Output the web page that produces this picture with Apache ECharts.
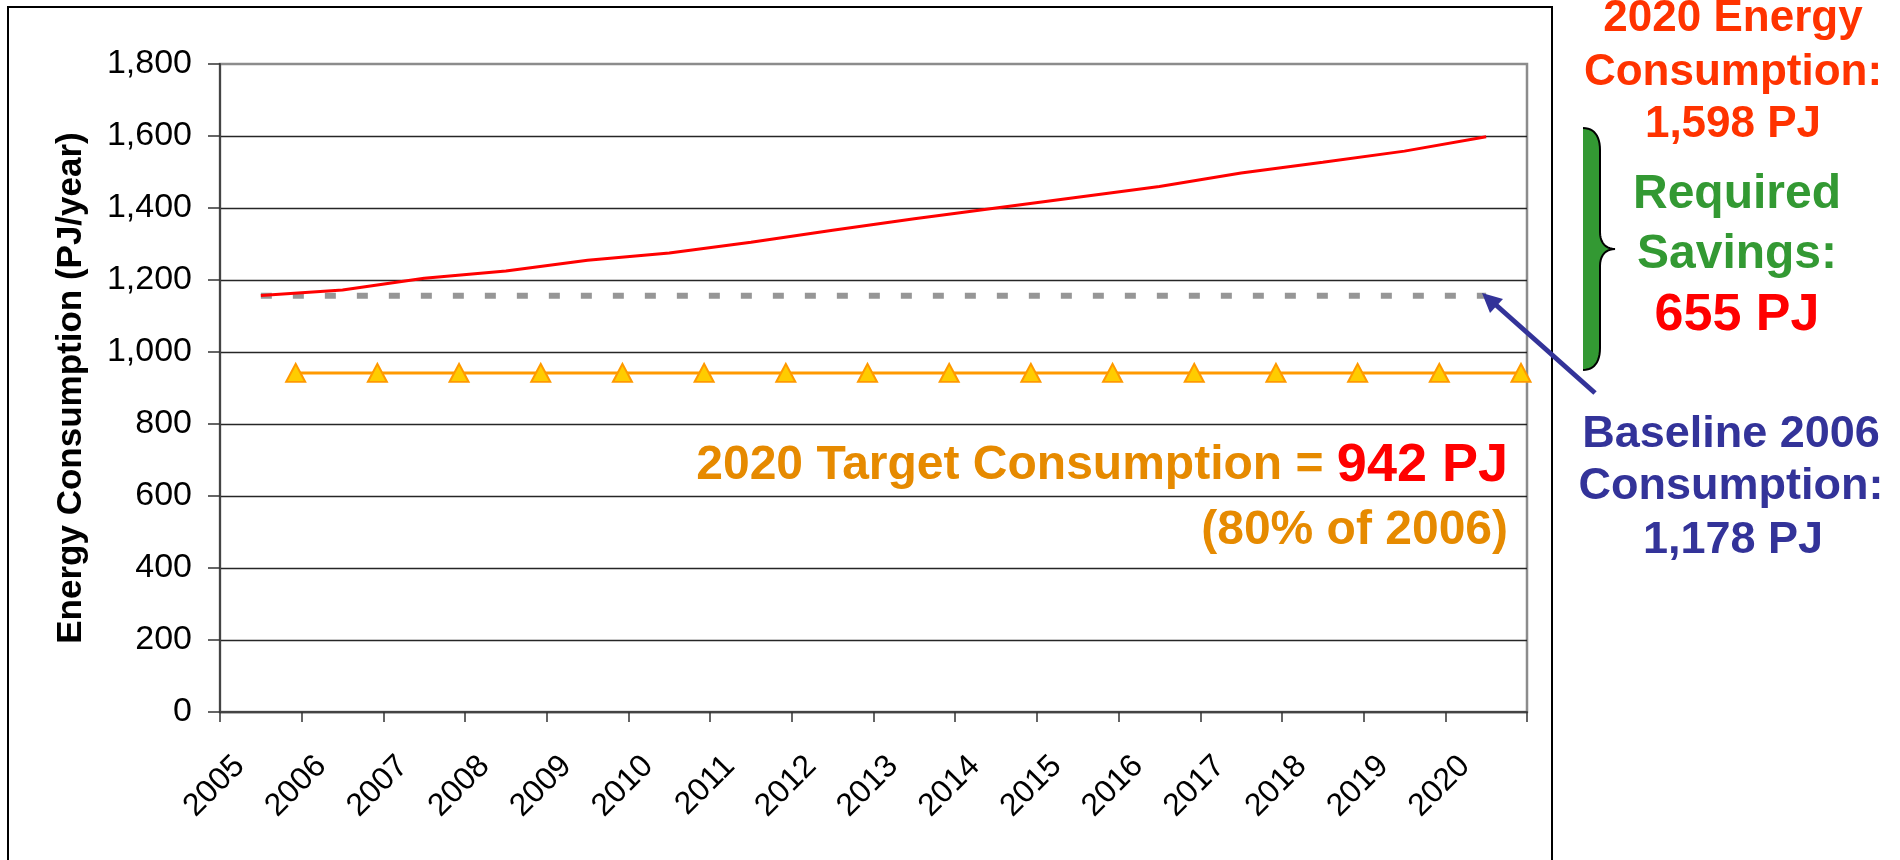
<!DOCTYPE html>
<html>
<head>
<meta charset="utf-8">
<script src="https://cdn.jsdelivr.net/npm/echarts@6/dist/echarts.min.js"></script>
<style>
  html, body { margin: 0; padding: 0; background: #fff; }
  #chart { width: 1900px; height: 860px; }
</style>
</head>
<body>
<div id="chart"></div>
<script>
// ---- data ----
const years = ['2005','2006','2007','2008','2009','2010','2011','2012','2013','2014','2015','2016','2017','2018','2019','2020'];
const projected = [1157,1172,1205,1225,1255,1275,1305,1338,1370,1400,1430,1460,1497,1527,1558,1598];
const baseline2006 = [1156,1156,1156,1156,1156,1156,1156,1156,1156,1156,1156,1156,1156,1156,1156,1156];
// target series sits on the category boundaries (second, hidden axis)
const targetSlots = ['', '2006','2007','2008','2009','2010','2011','2012','2013','2014','2015','2016','2017','2018','2019','2020','2021'];
const target = [942,942,942,942,942,942,942,942,942,942,942,942,942,942,942,942];
const yMin = 0, yMax = 1800, yStep = 200;

const FONT = "'Liberation Sans', Arial, sans-serif";
const chart = echarts.init(document.getElementById('chart'), null, { renderer: 'canvas' });

const targetData = [null].concat(target);

// brace outline (decoration) sampled from cubic curves
function cubic(p0, p1, p2, p3, n) {
  const pts = [];
  for (let i = 0; i <= n; i++) {
    const t = i / n, u = 1 - t;
    pts.push([
      u*u*u*p0[0] + 3*u*u*t*p1[0] + 3*u*t*t*p2[0] + t*t*t*p3[0],
      u*u*u*p0[1] + 3*u*u*t*p1[1] + 3*u*t*t*p2[1] + t*t*t*p3[1]
    ]);
  }
  return pts;
}
const braceEdge = [].concat(
  cubic([1583,128],[1594,128],[1600,136],[1600,150], 12),
  cubic([1600,232],[1600,243],[1606,249],[1615,249], 10),
  cubic([1615,249],[1606,249],[1600,255],[1600,266], 10),
  cubic([1600,348],[1600,362],[1594,370],[1583,370], 12)
);

const option = {
  animation: false,
  backgroundColor: '#ffffff',
  grid: [
    { left: 220, top: 64, width: 1307, height: 648, show: true, borderColor: '#8c8c8c', borderWidth: 2.5, backgroundColor: 'transparent' },
    { left: 214, top: 64, width: 1307, height: 648 }
  ],
  xAxis: [
    {
      gridIndex: 0, type: 'category', data: years, boundaryGap: true, z: 3,
      axisLine: { show: true, lineStyle: { color: '#444', width: 2 } },
      axisTick: { show: true, length: 10, lineStyle: { color: '#333', width: 1.5 } },
      axisLabel: { interval: 0, rotate: 45, margin: 28, padding: [0, 30, 0, 0], fontSize: 32, color: '#000', fontFamily: FONT },
      splitLine: { show: false }
    },
    { gridIndex: 1, type: 'category', data: targetSlots, boundaryGap: false, show: false }
  ],
  yAxis: [
    {
      gridIndex: 0, type: 'value', min: yMin, max: yMax, interval: yStep, z: 3,
      name: 'Energy Consumption (PJ/year)', nameLocation: 'middle', nameGap: 131,
      nameTextStyle: { fontSize: 35, fontWeight: 'bold', color: '#000', fontFamily: FONT },
      axisLine: { show: true, lineStyle: { color: '#444', width: 2 } },
      axisTick: { show: true, length: 12, lineStyle: { color: '#333', width: 1.5 } },
      axisLabel: { margin: 28, fontSize: 34, color: '#000', fontFamily: FONT,
        formatter: v => v.toLocaleString('en-US') },
      splitLine: { show: true, showMaxLine: false, lineStyle: { color: '#262626', width: 1.4 } }
    },
    { gridIndex: 1, type: 'value', min: yMin, max: yMax, interval: yStep, show: false, splitLine: { show: false } }
  ],
  series: [
    {
      name: 'Baseline', type: 'line', xAxisIndex: 0, yAxisIndex: 0, data: baseline2006,
      symbol: 'none', z: 3,
      lineStyle: { color: '#969696', width: 6, type: [11, 21], cap: 'butt' }
    },
    {
      name: 'Projected', type: 'line', xAxisIndex: 0, yAxisIndex: 0, data: projected,
      symbol: 'none', z: 4,
      lineStyle: { color: '#ff0000', width: 3 }
    },
    {
      name: 'Target', type: 'line', xAxisIndex: 1, yAxisIndex: 1, data: targetData,
      symbol: 'triangle', symbolSize: [19, 18], z: 5,
      itemStyle: { color: '#ffcc00', borderColor: '#ff9900', borderWidth: 2 },
      lineStyle: { color: '#ff9900', width: 3 }
    }
  ],
  graphic: [
    // outer frame
    { type: 'rect', z: 0, shape: { x: 8, y: 7, width: 1544, height: 900 },
      style: { fill: 'none', stroke: '#000', lineWidth: 2 } },
    // brace
    { type: 'polygon', z: 10, shape: { points: braceEdge },
      style: { fill: '#339933', stroke: 'none' } },
    { type: 'polyline', z: 11, shape: { points: braceEdge },
      style: { fill: 'none', stroke: '#000', lineWidth: 2 } },
    // arrow
    { type: 'line', z: 10, shape: { x1: 1595, y1: 393, x2: 1496, y2: 305 },
      style: { stroke: '#333399', lineWidth: 5 } },
    { type: 'polygon', z: 10, shape: { points: [[1482, 293], [1503, 299], [1490, 313]] },
      style: { fill: '#333399' } },
    // right annotations
    { type: 'text', z: 10, x: 1733, y: 19, style: { text: '2020 Energy', fill: '#ff3300', fontSize: 44, fontWeight: 'bold', fontFamily: FONT, align: 'center', verticalAlign: 'middle' } },
    { type: 'text', z: 10, x: 1733, y: 73, style: { text: 'Consumption:', fill: '#ff3300', fontSize: 44, fontWeight: 'bold', fontFamily: FONT, align: 'center', verticalAlign: 'middle' } },
    { type: 'text', z: 10, x: 1733, y: 125, style: { text: '1,598 PJ', fill: '#ff3300', fontSize: 44, fontWeight: 'bold', fontFamily: FONT, align: 'center', verticalAlign: 'middle' } },
    { type: 'text', z: 10, x: 1737, y: 195, style: { text: 'Required', fill: '#339933', fontSize: 48, fontWeight: 'bold', fontFamily: FONT, align: 'center', verticalAlign: 'middle' } },
    { type: 'text', z: 10, x: 1737, y: 255, style: { text: 'Savings:', fill: '#339933', fontSize: 48, fontWeight: 'bold', fontFamily: FONT, align: 'center', verticalAlign: 'middle' } },
    { type: 'text', z: 10, x: 1737, y: 316, style: { text: '655 PJ', fill: '#ff0000', fontSize: 52, fontWeight: 'bold', fontFamily: FONT, align: 'center', verticalAlign: 'middle' } },
    { type: 'text', z: 10, x: 1731, y: 435, style: { text: 'Baseline 2006', fill: '#333399', fontSize: 45, fontWeight: 'bold', fontFamily: FONT, align: 'center', verticalAlign: 'middle' } },
    { type: 'text', z: 10, x: 1731, y: 487, style: { text: 'Consumption:', fill: '#333399', fontSize: 45, fontWeight: 'bold', fontFamily: FONT, align: 'center', verticalAlign: 'middle' } },
    { type: 'text', z: 10, x: 1733, y: 541, style: { text: '1,178 PJ', fill: '#333399', fontSize: 45, fontWeight: 'bold', fontFamily: FONT, align: 'center', verticalAlign: 'middle' } },
    // target annotation inside plot
    { type: 'text', z: 10, x: 1508, y: 466, style: {
        text: '{a|2020 Target Consumption = }{b|942 PJ}', align: 'right', verticalAlign: 'middle',
        rich: {
          a: { fill: '#e68a00', fontSize: 48, fontWeight: 'bold', fontFamily: FONT },
          b: { fill: '#ff0000', fontSize: 54, fontWeight: 'bold', fontFamily: FONT }
        } } },
    { type: 'text', z: 10, x: 1508, y: 531, style: { text: '(80% of 2006)', fill: '#e68a00', fontSize: 48, fontWeight: 'bold', fontFamily: FONT, align: 'right', verticalAlign: 'middle' } }
  ]
};
chart.setOption(option);
</script>
</body>
</html>
